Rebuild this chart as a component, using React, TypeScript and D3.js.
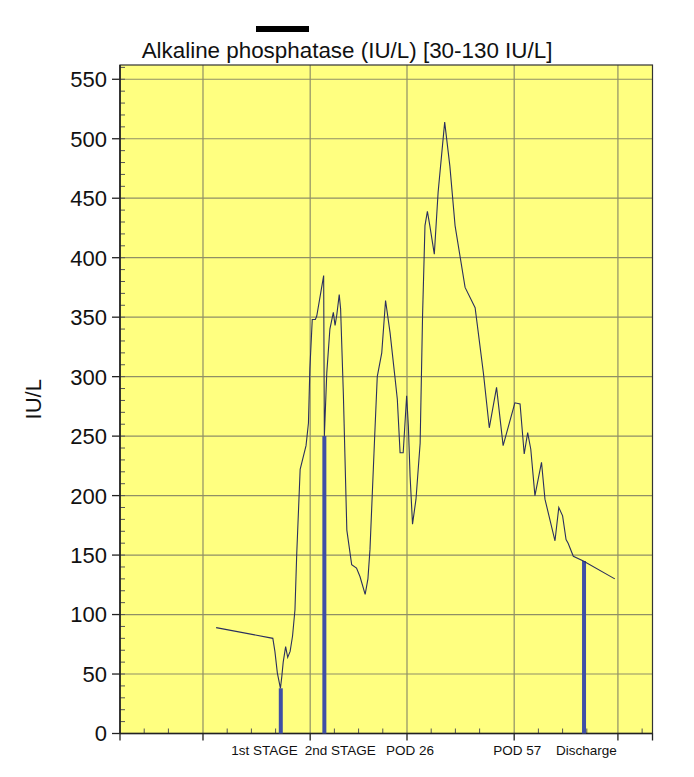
import React, { useEffect, useRef } from 'react';
import * as d3 from 'd3';

// x is days since 8 Dec, y is IU/L
const lineDays = [27.8, 44.2, 44.8, 45.5, 46.4, 46.8, 47.2, 47.9, 48.5, 49.2, 49.9, 50.6, 51.1, 52.1, 53.8, 54.5, 54.9, 55.6, 56.5, 56.9, 58.9, 59.1, 59.8, 60.7, 61.7, 62.2, 62.7, 63.4, 63.8, 64.6, 65.6, 67.0, 68.4, 69.4, 70.9, 71.7, 72.3, 73.7, 74.4, 75.7, 76.8, 78.1, 79.5, 80.2, 81.0, 81.9, 82.9, 83.4, 83.9, 84.6, 85.6, 86.8, 87.5, 88.2, 88.9, 89.6, 90.9, 92.0, 93.9, 95.4, 96.9, 99.8, 102.7, 105.1, 106.8, 108.9, 110.8, 114.2, 115.7, 116.9, 117.9, 118.8, 120.0, 121.9, 122.9, 125.8, 126.9, 128.0, 129.0, 129.6, 131.1, 134.0, 143.1];
const lineValues = [89, 80, 69, 51, 38, 48, 60, 73, 64, 69, 82, 104, 150, 222, 242, 261, 306, 348, 348, 351, 385, 250, 303, 340, 354, 343, 352, 369, 357, 285, 171, 142, 139, 132, 117, 130, 155, 253, 300, 320, 364, 337, 300, 281, 236, 236, 284, 258, 216, 176, 197, 244, 351, 427, 439, 427, 403, 455, 514, 477, 427, 375, 358, 303, 257, 291, 242, 278, 277, 235, 253, 239, 200, 228, 197, 162, 190, 183, 163, 160, 149, 145, 130];

const eventDays = [46.5, 59.1, 134.2];
const eventValues = [38, 250, 145];

const labelNames = ['1st STAGE', '2nd STAGE', 'POD 26', 'POD 57', 'Discharge'];
const labelDays = [41.8, 63.7, 83.9, 114.9, 134.9];

// month starts (1 Jan .. 1 May); 1 Dec is day -7
const monthStarts = [-7, 24, 55, 83, 114, 144];
const yTicks = [0, 50, 100, 150, 200, 250, 300, 350, 400, 450, 500, 550];

const W = 694;
const H = 777;
const font = 'Liberation Sans, Arial, sans-serif';

const drawChart = (node: SVGSVGElement) => {
  const svg = d3.select(node);
  svg.selectAll('*').remove();

  const left = 120;
  const right = 652.5;
  const top = 65;
  const bottom = 733.5;

  const x = d3.scaleLinear().domain([0, 154]).range([left, right]);
  const y = d3.scaleLinear().domain([0, 562]).range([bottom, top]);

  svg.append('rect').attr('width', W).attr('height', H).attr('fill', '#fff');
  svg.append('rect')
    .attr('x', left).attr('y', top)
    .attr('width', right - left).attr('height', bottom - top)
    .attr('fill', '#ffff80');

  const grid = svg.append('g').attr('stroke', '#8f8f66').attr('stroke-width', 1.2);
  grid.selectAll('line.h')
    .data(yTicks.filter(d => d > 0))
    .enter().append('line')
    .attr('x1', left).attr('x2', right)
    .attr('y1', d => y(d)).attr('y2', d => y(d));
  grid.selectAll('line.v')
    .data(monthStarts.filter(d => d > 0))
    .enter().append('line')
    .attr('x1', d => x(d)).attr('x2', d => x(d))
    .attr('y1', top).attr('y2', bottom);

  // minor ticks
  const minorY = d3.range(10, 561, 10);
  svg.append('g').selectAll('line')
    .data(minorY)
    .enter().append('line')
    .attr('x1', left).attr('x2', left + 5)
    .attr('y1', d => y(d)).attr('y2', d => y(d))
    .attr('stroke', '#555').attr('stroke-width', 1);

  const minorX: number[] = [];
  monthStarts.forEach(m => [7, 14, 21].forEach(k => {
    if (m + k > 0 && m + k < 154) minorX.push(m + k);
  }));
  svg.append('g').selectAll('line')
    .data(minorX)
    .enter().append('line')
    .attr('x1', d => x(d)).attr('x2', d => x(d))
    .attr('y1', bottom).attr('y2', bottom - 5)
    .attr('stroke', '#555').attr('stroke-width', 1);

  // major ticks
  svg.append('g').selectAll('line')
    .data(yTicks)
    .enter().append('line')
    .attr('x1', left - 8).attr('x2', left)
    .attr('y1', d => y(d)).attr('y2', d => y(d))
    .attr('stroke', '#222').attr('stroke-width', 1.3);
  svg.append('g').selectAll('line')
    .data([0, ...monthStarts.filter(d => d > 0), 154])
    .enter().append('line')
    .attr('x1', d => x(d)).attr('x2', d => x(d))
    .attr('y1', bottom).attr('y2', bottom + 7)
    .attr('stroke', '#222').attr('stroke-width', 1.3);

  // frame
  svg.append('rect')
    .attr('x', left).attr('y', top)
    .attr('width', right - left).attr('height', bottom - top)
    .attr('fill', 'none').attr('stroke', '#333').attr('stroke-width', 1.2);
  svg.append('line')
    .attr('x1', left).attr('x2', left).attr('y1', top).attr('y2', bottom)
    .attr('stroke', '#222').attr('stroke-width', 1.6);
  svg.append('line')
    .attr('x1', left).attr('x2', right).attr('y1', bottom).attr('y2', bottom)
    .attr('stroke', '#222').attr('stroke-width', 1.6);

  // event bars
  svg.append('g').selectAll('line')
    .data(eventDays)
    .enter().append('line')
    .attr('x1', d => x(d)).attr('x2', d => x(d))
    .attr('y1', bottom).attr('y2', (d, i) => y(eventValues[i]))
    .attr('stroke', '#3f4fa6').attr('stroke-width', 4);

  // series
  const pts = lineDays.map((d, i) => [d, lineValues[i]] as [number, number]);
  const line = d3.line<[number, number]>().x(d => x(d[0])).y(d => y(d[1]));
  svg.append('path')
    .attr('d', line(pts))
    .attr('fill', 'none')
    .attr('stroke', '#2a2f5e')
    .attr('stroke-width', 1.1);

  // tick labels
  svg.append('g').selectAll('text')
    .data(yTicks)
    .enter().append('text')
    .attr('x', left - 13).attr('y', d => y(d))
    .attr('dy', '0.36em')
    .attr('text-anchor', 'end')
    .attr('font-family', font).attr('font-size', 22)
    .attr('fill', '#111')
    .text(d => d);

  svg.append('g').selectAll('text')
    .data(labelNames)
    .enter().append('text')
    .attr('x', (d, i) => x(labelDays[i])).attr('y', 755)
    .attr('text-anchor', 'middle')
    .attr('font-family', font).attr('font-size', 13.5)
    .attr('fill', '#111')
    .text(d => d);

  svg.append('text')
    .attr('transform', `translate(41, ${(top + bottom) / 2}) rotate(-90)`)
    .attr('text-anchor', 'middle')
    .attr('font-family', font).attr('font-size', 22)
    .attr('fill', '#111')
    .text('IU/L');

  svg.append('rect')
    .attr('x', 256).attr('y', 26).attr('width', 53).attr('height', 6)
    .attr('fill', '#000');
  svg.append('text')
    .attr('x', 347).attr('y', 58)
    .attr('text-anchor', 'middle')
    .attr('font-family', font).attr('font-size', 22.4)
    .attr('fill', '#111')
    .text('Alkaline phosphatase (IU/L) [30-130 IU/L]');
};

const App = () => {
  const ref = useRef<SVGSVGElement>(null);
  useEffect(() => {
    if (ref.current) drawChart(ref.current);
  }, []);
  return (
    <svg
      ref={ref}
      width={W}
      height={H}
      style={{ position: 'absolute', left: 0, top: 0, display: 'block' }}
    />
  );
};

export default App;
